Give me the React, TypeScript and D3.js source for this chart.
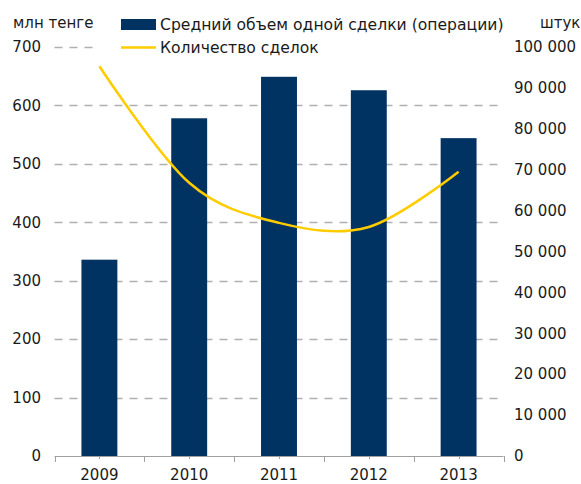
import React, { useRef, useEffect } from 'react';
import * as d3 from 'd3';

const years = ['2009', '2010', '2011', '2012', '2013'];
const avgDeal = [336, 578, 649, 626, 544];
const dealCount = [95300, 66800, 57000, 56000, 69500];
const leftTicks = [0, 100, 200, 300, 400, 500, 600, 700];
const rightTicks = [0, 10000, 20000, 30000, 40000, 50000, 60000, 70000, 80000, 90000, 100000];
const legendLabels = ['Средний объем одной сделки (операции)', 'Количество сделок'];

const BAR = '#003262';
const LINE = '#ffcc00';
const FONT = 'Verdana, "DejaVu Sans", sans-serif';

const App = () => {
    const svgRef = useRef(null);

    useEffect(() => {
        const svg = d3.select(svgRef.current);
        svg.selectAll('*').remove();

        const left = 54.5, right = 503.5, bottom = 456, top = 47;

        const x = d3.scaleBand().domain(years).range([left, right]);
        const yL = d3.scaleLinear().domain([0, 700]).range([bottom, top]);
        const yR = d3.scaleLinear().domain([0, 100000]).range([bottom, top]);
        const bw = x.bandwidth();

        // dashed grid
        svg.append('g')
            .selectAll('line')
            .data(leftTicks.filter(d => d > 0))
            .enter().append('line')
            .attr('x1', left).attr('x2', right)
            .attr('y1', d => Math.round(yL(d)) + 0.5)
            .attr('y2', d => Math.round(yL(d)) + 0.5)
            .attr('stroke', '#b0b0b0')
            .attr('stroke-width', 1.3)
            .attr('stroke-dasharray', '8,7');

        // bars
        svg.append('g')
            .selectAll('rect')
            .data(avgDeal)
            .enter().append('rect')
            .attr('x', (d, i) => x(years[i]) + bw * 0.3)
            .attr('width', bw * 0.4)
            .attr('y', d => yL(d))
            .attr('height', d => bottom - yL(d))
            .attr('fill', BAR);

        // x axis line and ticks
        const ax = svg.append('g').attr('stroke', '#a0a0a0').attr('stroke-width', 1);
        ax.append('line').attr('x1', left).attr('x2', right).attr('y1', bottom + 0.5).attr('y2', bottom + 0.5);
        const bounds = years.map(y => x(y)).concat([right]);
        ax.selectAll('.major').data(bounds).enter().append('line')
            .attr('x1', d => Math.round(d) + 0.5).attr('x2', d => Math.round(d) + 0.5)
            .attr('y1', bottom).attr('y2', bottom + 6);
        ax.selectAll('.minor').data(years).enter().append('line')
            .attr('x1', d => Math.round(x(d) + bw / 2) + 0.5).attr('x2', d => Math.round(x(d) + bw / 2) + 0.5)
            .attr('y1', bottom).attr('y2', bottom + 3);

        // line
        const line = d3.line()
            .x((d, i) => x(years[i]) + bw / 2)
            .y(d => yR(d))
            .curve(d3.curveCardinal.tension(0));
        svg.append('path')
            .datum(dealCount)
            .attr('d', line)
            .attr('fill', 'none')
            .attr('stroke', LINE)
            .attr('stroke-width', 2.5);

        // legend box hides the top grid line
        svg.append('rect').attr('x', 96).attr('y', 10).attr('width', 420).attr('height', 52).attr('fill', '#fff');
        svg.append('rect').attr('x', 121).attr('y', 19).attr('width', 35).attr('height', 11).attr('fill', BAR);
        svg.append('line').attr('x1', 121).attr('x2', 156).attr('y1', 47.5).attr('y2', 47.5)
            .attr('stroke', LINE).attr('stroke-width', 2.5);
        svg.selectAll('.leg').data(legendLabels).enter().append('text')
            .attr('x', 160).attr('y', (d, i) => 25 + i * 23)
            .attr('dy', '0.35em')
            .attr('font-size', 15.6)
            .attr('font-family', FONT)
            .attr('fill', '#1a1a1a')
            .text(d => d);

        // axis labels
        const txt = svg.append('g').attr('font-family', FONT).attr('font-size', 15).attr('fill', '#1a1a1a');
        txt.selectAll('.l').data(leftTicks).enter().append('text')
            .attr('x', 41).attr('y', d => yL(d)).attr('dy', '0.35em')
            .attr('text-anchor', 'end').text(d => d);
        txt.selectAll('.r').data(rightTicks).enter().append('text')
            .attr('x', 514).attr('y', d => yR(d)).attr('dy', '0.35em')
            .text(d => d3.format(',')(d).replace(/,/g, ' '));
        txt.selectAll('.x').data(years).enter().append('text')
            .attr('x', d => x(d) + bw / 2).attr('y', 475).attr('dy', '0.35em')
            .attr('text-anchor', 'middle').text(d => d);
        txt.append('text').attr('x', 13).attr('y', 23).attr('dy', '0.35em').text('млн тенге');
        txt.append('text').attr('x', 540).attr('y', 23).attr('dy', '0.35em').text('штук');
    }, []);

    return (
        <svg ref={svgRef} width="581" height="484"
            style={{ position: 'absolute', left: 0, top: 0, background: '#fff' }} />
    );
};

export default App;
